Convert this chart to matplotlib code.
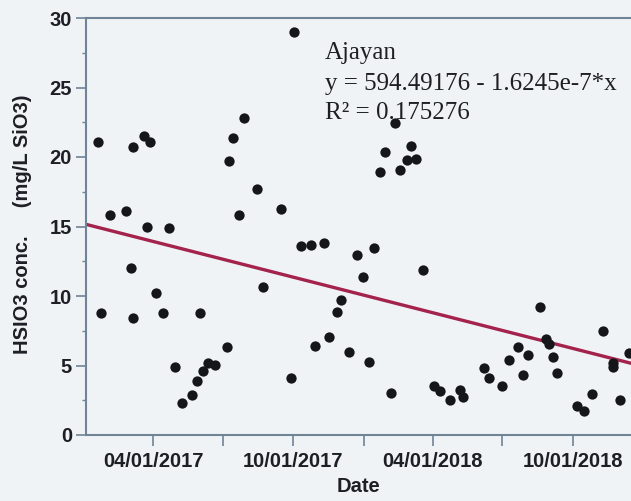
import numpy as np
import matplotlib.pyplot as plt
import matplotlib.dates as mdates
from matplotlib.ticker import MultipleLocator

# muestras de silicato, sitio Ajayan
fechas = ["2017-01-19", "2017-01-23", "2017-02-03", "2017-02-24", "2017-03-03",
          "2017-03-05", "2017-03-06", "2017-03-20", "2017-03-24", "2017-03-27",
          "2017-04-05", "2017-04-13", "2017-04-21", "2017-04-29", "2017-05-08",
          "2017-05-21", "2017-05-28", "2017-06-05", "2017-06-12", "2017-06-20",
          "2017-06-01", "2017-07-06", "2017-07-09", "2017-07-14", "2017-07-22",
          "2017-07-29", "2017-08-14", "2017-08-22", "2017-09-15", "2017-09-28",
          "2017-10-02", "2017-10-11", "2017-10-24", "2017-10-29", "2017-11-10",
          "2017-11-16", "2017-11-27", "2017-12-02", "2017-12-12", "2017-12-23",
          "2017-12-31", "2018-01-08", "2018-01-14", "2018-01-22", "2018-01-28",
          "2018-02-06", "2018-02-11", "2018-02-17", "2018-02-26", "2018-03-03",
          "2018-03-10", "2018-03-19", "2018-04-02", "2018-04-11", "2018-04-24",
          "2018-05-06", "2018-05-11", "2018-06-07", "2018-06-14", "2018-06-30",
          "2018-07-09", "2018-07-22", "2018-07-28", "2018-08-04", "2018-08-19",
          "2018-08-27", "2018-08-31", "2018-09-05", "2018-09-10", "2018-10-06",
          "2018-10-16", "2018-10-26", "2018-11-10", "2018-11-22", "2018-11-23",
          "2018-12-01", "2018-12-14"]
hsio3 = [21.1, 8.8, 15.8, 16.1, 12.05, 8.4, 20.7, 21.5, 15.0, 21.1,
         10.2, 8.8, 14.9, 4.9, 2.33, 2.86, 3.9, 4.57, 5.18, 5.04,
         8.8, 6.31, 19.7, 21.4, 15.8, 22.8, 17.7, 10.66, 16.23, 4.1,
         29.0, 13.6, 13.67, 6.43, 13.8, 7.07, 8.84, 9.72, 5.96, 12.95,
         11.39, 5.24, 13.47, 18.92, 20.34, 3.0, 22.47, 19.09, 19.78, 20.81,
         19.83, 11.88, 3.54, 3.15, 2.53, 3.22, 2.72, 4.8, 4.1, 3.54,
         5.37, 6.36, 4.34, 5.77, 9.2, 6.92, 6.58, 5.61, 4.47, 2.09,
         1.74, 2.97, 7.48, 5.15, 4.92, 2.53, 5.88]

# ajuste lineal (x en segundos desde 1904-01-01)
a = 594.49176
b = 1.6245e-7
r2 = 0.175276

x = mdates.date2num(np.array(fechas, dtype="datetime64[D]"))
xmin = mdates.date2num(np.datetime64("2017-01-03"))
xmax = mdates.date2num(np.datetime64("2018-12-16"))

xl = np.array([xmin, xmax])
seg = (xl + 24107) * 86400.0
yl = a - b * seg

fondo = "#f0f3f6"
eje = "#6f8496"
tinta = "#1e1f26"

fig = plt.figure(figsize=(6.31, 5.01), dpi=100, facecolor=fondo)
ax = fig.add_axes([86/631, 1-435/501, 545/631, 417/501], facecolor=fondo)

ax.plot(xl, yl, color="#a3234c", lw=2.4, zorder=2)
ax.scatter(x, hsio3, s=55, color="#15161a", zorder=3, linewidths=0)

ax.set_xlim(xmin, xmax)
ax.set_ylim(0, 30)

# ticks cada trimestre, etiqueta solo en abril y octubre
ax.xaxis.set_major_locator(mdates.MonthLocator(bymonth=[1, 4, 7, 10]))
ax.yaxis.set_major_locator(MultipleLocator(5))
ax.yaxis.set_minor_locator(MultipleLocator(2.5))

fuente = {"family": "Liberation Sans", "weight": "bold", "size": 14.5}
ax.tick_params(axis="y", which="major", length=7, width=1.2, color=eje, pad=3,
               labelcolor=tinta)
ax.tick_params(axis="y", which="minor", length=3, width=1.0, color=eje)
ax.tick_params(axis="x", which="major", length=8, width=1.2, color=eje, pad=4,
               labelcolor=tinta)

etiquetas = []
for t in ax.get_xticks():
    d = mdates.num2date(t)
    etiquetas.append(d.strftime("%m/%d/%Y") if d.month in (4, 10) else "")
ax.set_xticks(ax.get_xticks())
ax.set_xticklabels(etiquetas, fontdict=fuente)
ax.set_yticks([0, 5, 10, 15, 20, 25, 30])
ax.set_yticklabels(["0", "5", "10", "15", "20", "25", "30"], fontdict=fuente)
ax.set_xlim(xmin, xmax)

for lado in ["left", "bottom", "top"]:
    ax.spines[lado].set_color(eje)
    ax.spines[lado].set_linewidth(1.5)
ax.spines["right"].set_visible(False)

fig.text(23/631, 1-224.5/501, "HSIO3 conc.     (mg/L SiO3)", rotation=90,
         ha="center", va="center", color=tinta, fontdict=fuente)
fig.text(358.5/631, 1-487/501, "Date", ha="center", va="center",
         color=tinta, fontdict=fuente)

serif = {"family": "Liberation Serif", "size": 18}
tx = (325-86)/545
ax.text(tx, (435-59)/417, "Ajayan", transform=ax.transAxes, va="baseline",
        color=tinta, fontdict=serif, zorder=4)
ax.text(tx, (435-90)/417, "y = %.5f - %.4fe-7*x" % (a, b*1e7),
        transform=ax.transAxes, va="baseline", color=tinta, fontdict=serif, zorder=4)
ax.text(tx, (435-119)/417, "R² = %.6f" % r2, transform=ax.transAxes,
        va="baseline", color=tinta, fontdict=serif, zorder=4)

plt.savefig("out.png", dpi=100, facecolor=fondo)
